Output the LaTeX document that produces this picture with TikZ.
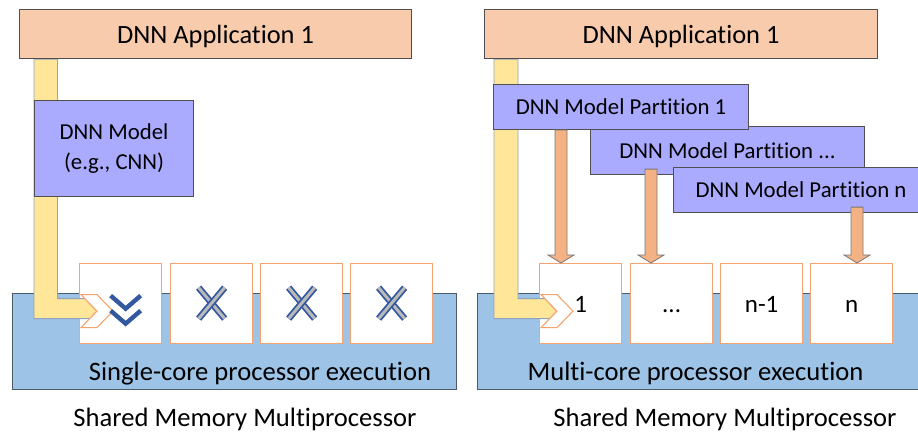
\documentclass[tikz,border=0pt]{standalone}
\usepackage{fontspec}
\setmainfont{Carlito}[Ligatures=NoCommon]
\usetikzlibrary{calc}

\definecolor{appfill}{RGB}{248,203,173}
\definecolor{boxline}{RGB}{80,80,80}
\definecolor{modelfill}{RGB}{170,170,255}
\definecolor{memfill}{RGB}{157,195,230}
\definecolor{memline}{RGB}{77,90,104}
\definecolor{busfill}{RGB}{255,230,153}
\definecolor{busline}{RGB}{143,163,191}
\definecolor{coreline}{RGB}{244,164,112}
\definecolor{arrfill}{RGB}{244,177,131}
\definecolor{arrline}{RGB}{120,120,120}
\definecolor{iconblue}{RGB}{52,88,160}
\definecolor{icongray}{RGB}{185,185,185}

% block arrow from a partition box down to a core
\newcommand\partarrow[4]{% column, source, target, inset
  \draw[parrow] ($(#2.south -| #1)+(-6,-#4)$) -- ($(#2.south -| #1)+(6,-#4)$)
    -- ($(#3.north -| #1)+(6,-8)$) -- ($(#3.north -| #1)+(13,-8)$)
    -- (#3.north -| #1) -- ($(#3.north -| #1)+(-13,-8)$)
    -- ($(#3.north -| #1)+(-6,-8)$) -- cycle;}
% bent bus from the application into the first core
\newcommand\busarrow[4]{% left column, right column, source, target core
  \draw[bus] (#3.south -| #1) -- (#3.south -| #2)
    -- ($(#4.west -| #2)+(0,-5)$) -- ($(#4.west)+(5.9,-5)$)
    -- ($(#4.west)+(18,7.5)$) -- ($(#4.west)+(10.7,15)$)
    -- ($(#4.west -| #1)+(0,15)$) -- cycle;}
% chevron where the bus enters the core
\newcommand\entrychev[1]{%
  \draw[chev] ($(#1.west)+(2,-9)$) -- ++(16,0) -- ++(16,16.5) -- ++(-16,16.5)
    -- ++(-16,0) -- ++(16,-16.5) -- cycle;}
% idle core mark
\newcommand\idlemark[1]{%
  \foreach \s in {1,-1}{%
    \draw[line width=6.6pt, iconblue] ($(#1.center)+(-13*\s,-16)$) -- ($(#1.center)+(13*\s,15)$);
    \draw[line width=3.0pt, icongray] ($(#1.center)+(-13*\s,-16)$) -- ($(#1.center)+(13*\s,15)$);}}
% active core mark
\newcommand\runmark[1]{%
  \draw[line width=4.4pt, iconblue] ($(#1.center)+(-10,-8)$) -- ++(15,13) -- ++(15,-13);
  \draw[line width=4.4pt, iconblue] ($(#1.center)+(-10,7)$) -- ++(15,13) -- ++(15,-13);}

\tikzset{
  appbox/.style={draw=boxline, fill=appfill, line width=1.1pt, minimum height=49pt,
    inner sep=0pt, anchor=north west, text depth=0pt, font=\fontsize{26.4}{30}\selectfont},
  modelbox/.style={draw=boxline, fill=modelfill, line width=1.1pt, inner sep=0pt,
    anchor=north west, align=center, font=\fontsize{22.8}{30}\selectfont},
  partbox/.style={modelbox, minimum height=45pt, text depth=0pt},
  membox/.style={draw=memline, fill=memfill, line width=1.1pt, minimum height=96pt,
    inner sep=0pt, anchor=north west},
  memlabel/.style={anchor=base, inner sep=0pt, font=\fontsize{26.6}{30}\selectfont},
  core/.style={draw=coreline, fill=white, line width=1.3pt, minimum width=82pt,
    minimum height=80pt, inner sep=0pt, anchor=north west},
  corelabel/.style={anchor=base, inner sep=0pt, font=\fontsize{25}{30}\selectfont},
  bus/.style={draw=busline, fill=busfill, line width=0.9pt, line join=miter},
  chev/.style={draw=coreline, fill=white, line width=1.1pt},
  parrow/.style={draw=arrline, fill=arrfill, line width=0.8pt},
}

\begin{document}
\begin{tikzpicture}[x=1pt, y=-1pt]
\useasboundingbox (0,0) rectangle (918,433);
\clip (0,0) rectangle (918,433);

% shared memory bands
\node[membox, minimum width=444pt] (memL) at (12,293) {};
\node[membox, minimum width=460pt] (memR) at (477,293) {};
\node[memlabel] (execL) at (260,380) {Single-core processor execution};
\node[memlabel] (execR) at (695.5,380) {Multi-core processor execution};
\node[memlabel] (smpL) at (245,426) {Shared Memory Multiprocessor};
\node[memlabel] (smpR) at (725,426) {Shared Memory Multiprocessor};

% cores
\foreach \i/\x in {1/79,2/170,3/260,4/350}
  \node[core] (cL\i) at (\x,263) {};
\foreach \i/\x in {1/539,2/630,3/720,4/810}
  \node[core] (cR\i) at (\x,263) {};

% applications
\node[appbox, minimum width=392pt] (appL) at (19,9) {};
\node[appbox, minimum width=393pt] (appR) at (484,9) {};

% bus columns
\coordinate (bL1) at (34,0);
\coordinate (bL2) at (57.5,0);
\coordinate (bR1) at (494,0);
\coordinate (bR2) at (518,0);
\busarrow{bL1}{bL2}{appL}{cL1}
\busarrow{bR1}{bR2}{appR}{cR1}
\entrychev{cL1}
\entrychev{cR1}

% application boxes on top of the bus ends
\node[appbox, minimum width=392pt] at (19,9) {DNN Application 1};
\node[appbox, minimum width=393pt] at (484,9) {DNN Application 1};

% core contents
\runmark{cL1}
\idlemark{cL2}
\idlemark{cL3}
\idlemark{cL4}
\node[corelabel] (lab1) at ($(cR1.center)+(0,9)$) {1};
\node[corelabel] (lab2) at ($(cR2.center)+(0,9)$) {...};
\node[corelabel] (lab3) at ($(cR3.center)+(0,9)$) {n-1};
\node[corelabel] (lab4) at ($(cR4.center)+(0,9)$) {n};

% models
\node[modelbox, minimum width=159pt, minimum height=96pt] (model) at (34,100)
  {DNN Model\\(e.g., CNN)};
\node[partbox, minimum width=274pt, minimum height=48pt] (pdots) at (590,126) {DNN Model Partition ...};
\node[partbox, minimum width=255pt] (p1) at (493,84) {DNN Model Partition 1};
\node[partbox, minimum width=255pt] (pn) at (673,167) {DNN Model Partition n};

% partition arrows
\coordinate (ac1) at (561,0);
\coordinate (ac2) at (651,0);
\coordinate (acn) at (857,0);
\partarrow{ac1}{p1}{cR1}{0}
\partarrow{ac2}{pdots}{cR2}{6}
\partarrow{acn}{pn}{cR4}{6}
\end{tikzpicture}
\end{document}
